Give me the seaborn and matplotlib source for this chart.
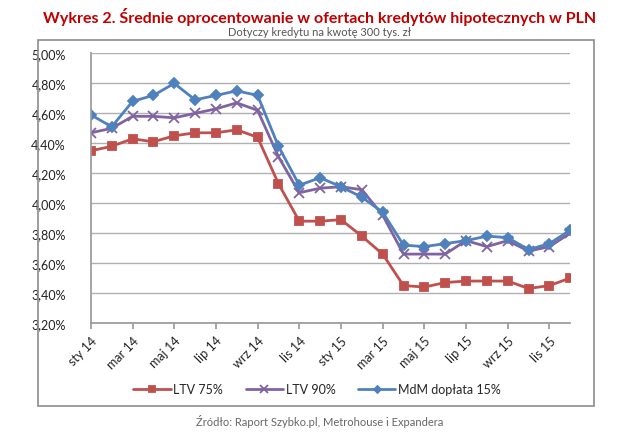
import pandas as pd
import matplotlib.pyplot as plt
import seaborn as sns
from matplotlib.patches import Rectangle
from matplotlib.ticker import FuncFormatter

# Monthly data, Jan 2014 - Dec 2015.
months = ["sty 14", "lut 14", "mar 14", "kwi 14", "maj 14", "cze 14",
          "lip 14", "sie 14", "wrz 14", "paz 14", "lis 14", "gru 14",
          "sty 15", "lut 15", "mar 15", "kwi 15", "maj 15", "cze 15",
          "lip 15", "sie 15", "wrz 15", "paz 15", "lis 15", "gru 15"]

ltv_75 = [4.35, 4.38, 4.43, 4.41, 4.45, 4.47, 4.47, 4.49, 4.44, 4.13,
          3.88, 3.88, 3.89, 3.78, 3.66, 3.45, 3.44, 3.47, 3.48, 3.48,
          3.48, 3.43, 3.45, 3.50]
ltv_90 = [4.47, 4.50, 4.58, 4.58, 4.57, 4.60, 4.63, 4.67, 4.62, 4.31,
          4.07, 4.10, 4.11, 4.09, 3.92, 3.66, 3.66, 3.66, 3.75, 3.71,
          3.75, 3.68, 3.71, 3.80]
mdm_15 = [4.59, 4.51, 4.68, 4.72, 4.80, 4.69, 4.72, 4.75, 4.72, 4.38,
          4.12, 4.17, 4.11, 4.04, 3.94, 3.72, 3.71, 3.73, 3.75, 3.78,
          3.77, 3.69, 3.73, 3.82]

series_names = ["LTV 75%", "LTV 90%", "MdM dopłata 15%"]
tick_labels = months[::2]

# Long format table for seaborn.
df = pd.DataFrame({
    "idx": list(range(len(months))) * 3,
    "value": ltv_75 + ltv_90 + mdm_15,
    "series": [s for s in series_names for _ in months],
})

sns.set_theme(style="white")
plt.rcParams["font.family"] = ["Lato", "DejaVu Sans"]

fig = plt.figure(figsize=(6.4, 4.39), dpi=100)
ax = fig.add_axes([0.142, 0.262, 0.749, 0.614])

colours = {"LTV 75%": "#C0504D", "LTV 90%": "#8064A2",
           "MdM dopłata 15%": "#4F81BD"}
markers = {"LTV 75%": "s", "LTV 90%": "x", "MdM dopłata 15%": "D"}
sizes = {"LTV 75%": 6, "LTV 90%": 7.5, "MdM dopłata 15%": 5}

for name in series_names:
    sub = df[df["series"] == name]
    sns.lineplot(data=sub, x="idx", y="value", ax=ax, color=colours[name],
                 marker=markers[name], markersize=sizes[name], linewidth=2,
                 markeredgecolor=colours[name], markeredgewidth=1.3,
                 label=name)

# Axes styling.
ax.set_xlim(0, len(months) - 1)
ax.set_ylim(3.2, 5.0)
ax.set_yticks([3.2 + 0.2 * i for i in range(10)])
ax.yaxis.set_major_formatter(
    FuncFormatter(lambda v, p: f"{v:.2f}%".replace(".", ",")))
ax.set_xticks(range(0, len(months), 2))
ax.set_xticklabels(tick_labels, rotation=45, ha="right",
                   rotation_mode="anchor")
ax.set_xlabel("")
ax.set_ylabel("")
ax.grid(axis="y", color="#B0B0B0", linewidth=1)
ax.set_axisbelow(True)
for side in ["top", "right"]:
    ax.spines[side].set_visible(False)
for side in ["left", "bottom"]:
    ax.spines[side].set_color("#9A9A9A")
ax.tick_params(axis="x", which="major", bottom=True, length=4,
               color="#9A9A9A", labelsize=9, labelcolor="#222222", pad=4)
ax.tick_params(axis="y", left=False, labelsize=9, labelcolor="#222222",
               pad=12)

# Legend below the plot.
ax.legend(loc="center", bbox_to_anchor=(317 / 640, 1 - 390 / 439),
          bbox_transform=fig.transFigure, ncol=3, frameon=False,
          fontsize=9, handlelength=3, columnspacing=1.8, handletextpad=0.2,
          markerscale=0.7)

# Outer chart border.
fig.patches.append(Rectangle((38 / 640, 1 - 407 / 439), 556 / 640,
                             366 / 439, transform=fig.transFigure,
                             fill=False, edgecolor="#8C8C8C", linewidth=1.2))

# Titles and source.
fig.text(0.5, 1 - 17 / 439,
         "Wykres 2. Średnie oprocentowanie w ofertach kredytów "
         "hipotecznych w PLN", ha="center", va="center", fontsize=11.5,
         fontweight="bold", color="#C00000")
fig.text(0.5, 1 - 33 / 439, "Dotyczy kredytu na kwotę 300 tys. zł",
         ha="center", va="center", fontsize=8, color="#555555")
fig.text(0.5, 1 - 422 / 439,
         "Źródło: Raport Szybko.pl, Metrohouse i Expandera",
         ha="center", va="center", fontsize=8, color="#666666")

plt.savefig("out.png", dpi=100)
